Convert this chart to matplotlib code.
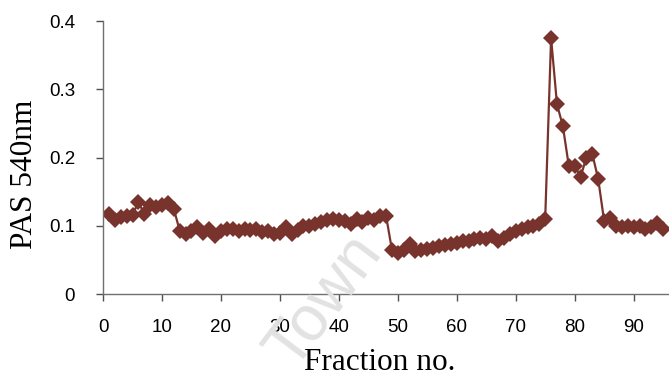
import matplotlib.pyplot as plt

# PAS absorbance at 540 nm for each collected fraction
fractions = list(range(1, 96))
pas_540 = [0.118, 0.108, 0.113, 0.115, 0.116, 0.135, 0.117, 0.130, 0.127, 0.130,
           0.133, 0.125, 0.093, 0.088, 0.092, 0.098, 0.090, 0.095, 0.085, 0.093,
           0.095, 0.096, 0.093, 0.095, 0.094, 0.095, 0.091, 0.093, 0.088, 0.090,
           0.098, 0.088, 0.094, 0.100, 0.100, 0.102, 0.105, 0.108, 0.110, 0.108,
           0.107, 0.103, 0.110, 0.105, 0.112, 0.108, 0.115, 0.115, 0.065, 0.060,
           0.065, 0.073, 0.063, 0.064, 0.066, 0.068, 0.070, 0.072, 0.073, 0.075,
           0.077, 0.078, 0.080, 0.082, 0.080, 0.085, 0.078, 0.082, 0.088, 0.092,
           0.095, 0.098, 0.100, 0.103, 0.110, 0.375, 0.278, 0.246, 0.188, 0.188,
           0.172, 0.200, 0.205, 0.168, 0.107, 0.112, 0.100, 0.098, 0.100, 0.098,
           0.100, 0.095, 0.098, 0.104, 0.096]

xticks = [0, 10, 20, 30, 40, 50, 60, 70, 80, 90]
yticks = [0, 0.1, 0.2, 0.3, 0.4]
ytick_labels = ['0', '0.1', '0.2', '0.3', '0.4']

fig = plt.figure(figsize=(6.69, 3.76), dpi=100)
ax = fig.add_axes([0.154, 0.218, 0.846, 0.726])

# faint background stamp
fig.text(0.485, 0.2, 'Town', fontsize=46, color='#e2e2e2', rotation=53,
         ha='center', va='center', family='Liberation Sans', zorder=0)
ax.patch.set_alpha(0)

ax.plot(fractions, pas_540, color='#78332d', linewidth=1.6,
        marker='D', markersize=8.5, markeredgewidth=0)

ax.set_xlim(0, 96)
ax.set_ylim(0, 0.4)
ax.set_xticks(xticks)
ax.set_yticks(yticks)
ax.set_yticklabels(ytick_labels)

for side in ['top', 'right']:
    ax.spines[side].set_visible(False)
for side in ['left', 'bottom']:
    ax.spines[side].set_color('#707070')
    ax.spines[side].set_linewidth(1.0)

ax.tick_params(axis='both', direction='out', length=5, width=1.0,
               color='#505050', labelsize=13.5)
ax.tick_params(axis='x', pad=13)
ax.tick_params(axis='y', pad=15)
for lab in ax.get_xticklabels() + ax.get_yticklabels():
    lab.set_family('Liberation Sans')

ax.set_xlabel('Fraction no.', family='Liberation Serif', fontsize=22.5)
ax.set_ylabel('PAS 540nm', family='Liberation Serif', fontsize=22.5)
ax.xaxis.set_label_coords(0.489, -0.249)
ax.yaxis.set_label_coords(-0.138, 0.44)
ax.xaxis.label.set_va('center')
ax.yaxis.label.set_va('center')

fig.savefig('out.png', dpi=100)
